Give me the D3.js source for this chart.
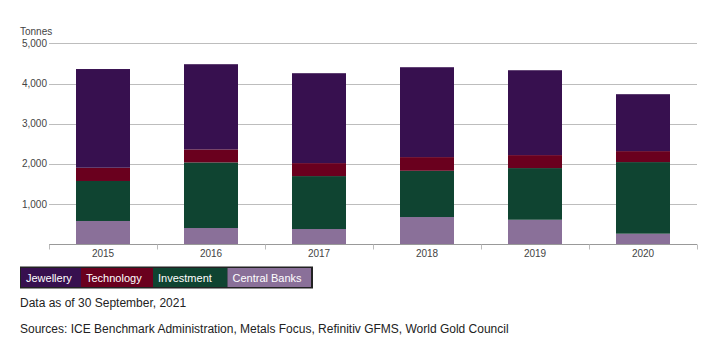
<!DOCTYPE html>
<html>
<head>
<meta charset="utf-8">
<script src="https://cdn.jsdelivr.net/npm/d3@7"></script>
<style>
  body { margin: 0; background: #fff; font-family: "Liberation Sans", Arial, sans-serif; }
  svg { display: block; }
</style>
</head>
<body>
<div id="chart"></div>
<script>
// Gold demand by sector, tonnes
const years = ["2015", "2016", "2017", "2018", "2019", "2020"];
const series = ["Central Banks", "Investment", "Technology", "Jewellery"];
const centralBanks = [580, 405, 380, 678, 611, 264];
const investment = [995, 1632, 1317, 1151, 1285, 1781];
const technology = [330, 323, 323, 340, 323, 273];
const jewellery = [2455, 2120, 2236, 2236, 2111, 1416];
const yTicks = [1000, 2000, 3000, 4000, 5000];
const legendOrder = ["Jewellery", "Technology", "Investment", "Central Banks"];

const colors = {
  "Jewellery": "#37104f",
  "Technology": "#6a001e",
  "Investment": "#0f4431",
  "Central Banks": "#8a7099"
};

const rows = years.map((y, i) => ({
  year: y,
  "Central Banks": centralBanks[i],
  "Investment": investment[i],
  "Technology": technology[i],
  "Jewellery": jewellery[i]
}));

const W = 717, H = 343;
const svg = d3.select("#chart").append("svg").attr("width", W).attr("height", H);

const x = d3.scaleBand().domain(years).range([49, 697]).paddingInner(0.5).paddingOuter(0.25);
const y = d3.scaleLinear().domain([0, 5000]).range([244.3, 43.3]);

// gridlines
svg.append("g")
  .selectAll("line")
  .data(yTicks)
  .join("line")
  .attr("x1", 49).attr("x2", 697)
  .attr("y1", d => Math.round(y(d)) + 0.5).attr("y2", d => Math.round(y(d)) + 0.5)
  .attr("stroke", "#bdbdbd").attr("stroke-width", 1);

// y labels
svg.append("g")
  .selectAll("text")
  .data(yTicks)
  .join("text")
  .attr("x", 47).attr("y", d => y(d) + 3.5)
  .attr("text-anchor", "end")
  .attr("font-size", 10).attr("fill", "#444")
  .text(d => d3.format(",")(d));

svg.append("text")
  .attr("x", 20).attr("y", 35)
  .attr("font-size", 10).attr("fill", "#444")
  .text("Tonnes");

// stacked bars
const stack = d3.stack().keys(series)(rows);
svg.append("g")
  .selectAll("g")
  .data(stack)
  .join("g")
  .attr("fill", d => colors[d.key])
  .selectAll("rect")
  .data(d => d)
  .join("rect")
  .attr("x", d => x(d.data.year))
  .attr("width", x.bandwidth())
  .attr("y", d => y(d[1]))
  .attr("height", d => y(d[0]) - y(d[1]));

// x axis
const xAxis = svg.append("g").attr("transform", "translate(0,244.5)");
xAxis.append("line")
  .attr("x1", 49).attr("x2", 697)
  .attr("stroke", "#999");
const bounds = d3.range(years.length + 1).map(i => 49 + i * (648 / years.length));
xAxis.selectAll(".tk")
  .data(bounds)
  .join("line")
  .attr("class", "tk")
  .attr("x1", d => Math.round(d) + 0.5).attr("x2", d => Math.round(d) + 0.5)
  .attr("y1", 0).attr("y2", 5)
  .attr("stroke", "#bbb");
xAxis.selectAll("text")
  .data(years)
  .join("text")
  .attr("x", d => x(d) + x.bandwidth() / 2)
  .attr("y", 12.5)
  .attr("text-anchor", "middle")
  .attr("font-size", 10).attr("fill", "#444")
  .text(d => d);

// legend
const legend = svg.append("g");
const legendWidths = [60, 72, 74.5, 84.5];
let lx = 21;
legend.append("rect")
  .attr("x", 20).attr("y", 266.5)
  .attr("width", 293).attr("height", 22)
  .attr("fill", "#222");
legendOrder.forEach((k, i) => {
  legend.append("rect")
    .attr("x", lx).attr("y", 268)
    .attr("width", legendWidths[i] - (i === legendOrder.length - 1 ? 1 : 0)).attr("height", 19)
    .attr("fill", colors[k]);
  legend.append("text")
    .attr("x", lx + 5).attr("y", 281.5)
    .attr("font-size", 11).attr("fill", "#fff")
    .text(k);
  lx += legendWidths[i];
});

// notes
svg.append("text")
  .attr("x", 20).attr("y", 307)
  .attr("font-size", 12).attr("fill", "#222")
  .text("Data as of 30 September, 2021");
svg.append("text")
  .attr("x", 20).attr("y", 333)
  .attr("font-size", 12).attr("fill", "#222")
  .text("Sources: ICE Benchmark Administration, Metals Focus, Refinitiv GFMS, World Gold Council");
</script>
</body>
</html>
